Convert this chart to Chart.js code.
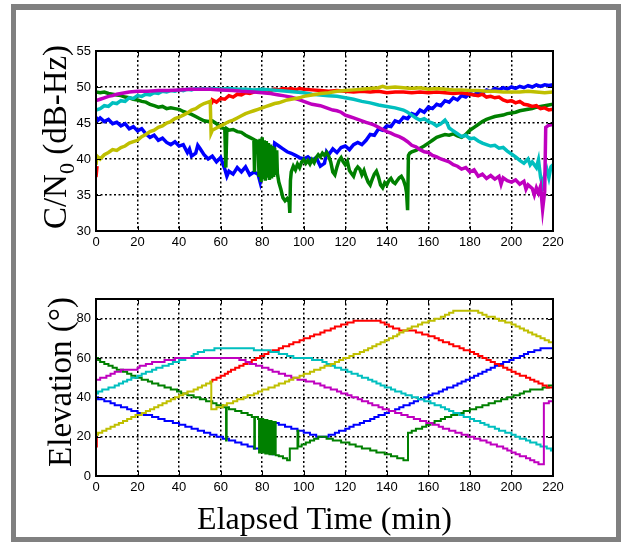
<!DOCTYPE html>
<html>
<head>
<meta charset="utf-8">
<script src="https://cdn.jsdelivr.net/npm/chart.js@4.4.1/dist/chart.umd.min.js"></script>
<style>
  html, body { margin: 0; padding: 0; background: #fff; }
  #page { position: relative; width: 621px; height: 542px; overflow: hidden; }
  #frame { position: absolute; left: 11px; top: 4px; width: 610px; height: 538px;
           box-sizing: border-box; border: 5px solid #808080; border-top-width: 6px; }
  canvas { position: absolute; left: 0; }
  #cnChart { top: 0; }
  #elChart { top: 262px; }
</style>
</head>
<body>
<div id="page">
  <div id="frame"></div>
  <canvas id="cnChart" width="621" height="262"></canvas>
  <canvas id="elChart" width="621" height="280"></canvas>
</div>
<script>
// tick positions
var minuteTicks = [0, 20, 40, 60, 80, 100, 120, 140, 160, 180, 200, 220];
var cnTicks = [30, 35, 40, 45, 50, 55];
var elTicks = [0, 20, 40, 60, 80];

// C/N0 per satellite, [minute, dB-Hz]
var blueCN = [[0,45.8],[1,45.4],[2,45.7],[4,45.2],[6,45.5],[8,44.9],[10,45.1],[12,44.6],[14,44.9],[16,44.2],[18,44.5],[20,43.9],[22,44.2],[24,43.5],[26,43.0],[28,43.3],[30,42.6],[32,42.9],[34,42.3],[36,42.0],[38,42.4],[40,41.8],[42,42.0],[44,40.9],[45,41.4],[46,40.4],[48,40.8],[49,41.9],[50,41.5],[52,40.6],[54,40.0],[56,40.4],[58,39.6],[60,40.2],[61,39.4],[62,38.6],[63,37.6],[64,38.3],[66,37.9],[68,38.8],[70,38.2],[72,38.9],[74,37.8],[76,38.2],[78,37.9],[79,36.8],[80,38.6],[82,38.0],[84,38.4],[85,39.5],[86,42.2],[88,41.8],[90,41.4],[92,41.0],[94,40.8],[96,40.5],[98,40.2],[100,40.0],[102,40.3],[104,39.8],[106,40.2],[108,39.0],[110,39.4],[111,41.0],[112,40.6],[114,41.4],[116,40.9],[118,41.6],[120,41.8],[122,41.3],[124,42.0],[126,42.3],[128,42.0],[130,42.6],[132,43.4],[134,43.3],[136,44.2],[138,44.0],[140,44.6],[142,44.5],[144,45.3],[146,45.1],[148,45.8],[150,45.6],[152,46.3],[154,46.1],[156,46.8],[158,46.5],[160,47.2],[162,47.0],[164,47.6],[166,47.4],[168,48.1],[170,47.9],[172,48.5],[174,48.2],[176,48.8],[178,48.6],[180,49.1],[182,48.9],[184,49.3],[186,49.1],[188,49.6],[190,49.4],[192,49.8],[194,49.6],[196,49.9],[198,49.7],[200,50.0],[202,49.8],[204,50.1],[206,49.9],[208,50.2],[210,50.0],[212,50.3],[214,50.1],[216,50.3],[218,50.2],[220,50.3]];
var greenCN = [[0,49.3],[2,49.2],[4,49.3],[6,49.1],[8,49.0],[10,48.9],[12,48.8],[14,48.6],[16,48.5],[18,48.3],[20,48.2],[22,48.0],[24,47.9],[26,47.6],[28,47.4],[30,47.2],[32,47.3],[34,47.0],[36,47.1],[38,47.0],[40,46.9],[42,46.6],[44,46.4],[46,46.2],[48,45.9],[50,45.6],[52,45.3],[54,45.2],[56,45.3],[58,44.9],[60,44.4],[62,44.2],[62.5,38.8],[63,44.2],[64,44.0],[66,44.1],[68,43.8],[70,43.7],[72,43.3],[74,43.0],[76,42.7],[76.3,38.2],[76.6,42.6],[78,42.4],[78.5,37.5],[79,42.8],[79.5,36.8],[80,43.0],[80.5,37.2],[81,42.6],[81.5,37.0],[82,42.5],[82.5,37.4],[83,42.2],[83.5,37.1],[84,42.0],[84.5,37.3],[85,41.8],[85.5,37.5],[86,41.6],[86.5,37.8],[87,41.2],[87.3,38.0],[88,36.8],[89,35.8],[90,34.6],[91,34.2],[92,34.5],[93,34.0],[93.3,32.5],[93.6,37.0],[94,38.2],[95,39.0],[96,38.5],[97,39.3],[98,38.8],[99,39.6],[100,39.9],[101,39.4],[102,39.8],[103,39.3],[104,39.9],[105,39.5],[106,40.2],[107,40.6],[108,40.3],[109,40.8],[110,40.5],[111,40.9],[112,40.4],[113,39.6],[114,38.2],[115,37.8],[116,38.9],[117,39.8],[118,40.2],[119,39.6],[120,39.2],[121,39.7],[122,38.4],[123,38.0],[124,37.6],[125,38.5],[126,38.9],[127,38.6],[128,37.8],[129,38.4],[130,37.5],[131,36.8],[132,36.4],[133,37.2],[134,37.9],[135,38.3],[136,37.5],[137,36.4],[138,36.0],[139,36.7],[140,36.4],[141,37.0],[142,37.3],[143,36.8],[144,36.6],[145,37.0],[146,37.4],[147,37.6],[148,37.1],[149,36.2],[149.5,35.3],[150,32.9],[150.4,40.5],[151,40.8],[152,41.0],[154,41.2],[156,41.5],[158,41.8],[160,42.2],[162,42.6],[164,43.0],[166,43.2],[168,43.4],[170,43.3],[172,43.5],[174,43.2],[176,43.0],[178,43.4],[180,44.0],[182,44.4],[184,44.8],[186,45.2],[188,45.5],[190,45.7],[192,45.9],[194,46.0],[196,46.1],[198,46.3],[200,46.4],[202,46.5],[204,46.7],[206,46.8],[208,46.9],[210,47.0],[212,47.2],[214,47.3],[216,47.4],[218,47.5],[220,47.6]];
var redCN = [[0,37.5],[0.5,39.0],[1,null],[55.5,47.6],[56,48.2],[58,47.9],[60,48.4],[62,48.3],[64,48.8],[66,48.6],[68,49.0],[70,48.9],[72,49.2],[74,49.1],[76,49.3],[78,49.5],[80,49.4],[82,49.6],[84,49.5],[86,49.7],[88,49.6],[90,49.8],[92,49.7],[94,49.8],[96,49.6],[98,49.8],[100,49.7],[104,49.6],[108,49.5],[112,49.4],[116,49.5],[120,49.4],[124,49.3],[128,49.4],[132,49.3],[136,49.4],[140,49.2],[144,49.3],[148,49.3],[152,49.2],[156,49.3],[160,49.2],[164,49.3],[168,49.2],[172,49.1],[176,49.2],[180,49.0],[184,48.8],[186,49.0],[188,48.6],[190,48.7],[192,48.5],[194,48.6],[196,48.2],[198,48.0],[200,48.1],[202,47.8],[204,48.0],[206,47.6],[208,47.5],[210,47.3],[212,47.4],[214,47.0],[216,47.1],[218,46.8],[220,46.9]];
var cyanCN = [[0,46.8],[2,47.0],[4,47.4],[6,47.3],[8,47.8],[10,47.7],[12,48.1],[14,48.0],[16,48.5],[18,48.4],[20,48.8],[22,48.7],[24,49.0],[26,48.9],[28,49.2],[30,49.1],[32,49.4],[34,49.3],[36,49.5],[38,49.4],[40,49.6],[42,49.5],[44,49.7],[46,49.6],[48,49.8],[50,49.7],[52,49.8],[54,49.7],[56,49.8],[60,49.7],[64,49.8],[68,49.7],[72,49.7],[76,49.6],[80,49.7],[84,49.6],[88,49.5],[92,49.4],[96,49.3],[100,49.2],[104,49.0],[108,48.9],[112,48.8],[116,48.7],[120,48.5],[124,48.3],[128,48.0],[132,47.8],[136,47.5],[140,47.3],[144,47.1],[148,46.8],[150,46.5],[152,46.1],[154,45.7],[156,45.4],[158,45.6],[160,45.2],[162,45.0],[164,44.6],[166,44.9],[168,45.4],[169,45.0],[170,44.3],[172,43.9],[174,43.5],[176,43.1],[178,43.3],[180,42.8],[182,42.9],[184,42.5],[186,42.2],[188,42.0],[190,41.8],[192,41.9],[194,41.5],[196,41.6],[198,41.1],[200,40.7],[202,40.3],[204,39.8],[206,39.4],[208,40.0],[209,39.2],[210,39.6],[212,38.8],[213,39.9],[214,37.5],[215,36.3],[216,37.8],[217,38.6],[218,37.4],[219,38.9],[220,39.2]];
var magentaCN = [[0,48.1],[2,48.3],[4,48.5],[6,48.7],[8,48.8],[10,49.0],[12,49.1],[14,49.2],[16,49.3],[20,49.4],[25,49.4],[30,49.5],[35,49.5],[40,49.6],[45,49.7],[50,49.7],[55,49.7],[60,49.6],[66,49.5],[70,49.4],[76,49.3],[80,49.2],[84,49.1],[88,48.9],[90,48.8],[92,48.7],[94,48.6],[96,48.4],[98,48.2],[100,48.0],[102,47.8],[104,47.6],[106,47.5],[108,47.4],[110,47.2],[112,47.0],[114,46.8],[116,46.7],[118,46.5],[120,46.1],[122,45.9],[124,45.7],[126,45.5],[128,45.3],[130,45.1],[132,44.9],[134,44.7],[136,44.4],[138,44.1],[140,43.8],[142,43.6],[144,43.3],[146,43.1],[148,42.8],[150,42.4],[152,41.9],[154,41.7],[156,41.3],[158,41.0],[160,40.9],[162,40.5],[164,40.3],[166,40.0],[168,39.8],[170,39.6],[172,39.2],[174,39.0],[176,38.6],[178,38.8],[180,38.2],[182,38.5],[184,37.6],[186,37.9],[188,37.3],[190,37.7],[192,37.2],[194,37.6],[195,36.5],[196,37.4],[198,37.0],[200,36.8],[202,37.1],[204,36.5],[206,36.9],[207,35.8],[208,36.4],[210,35.9],[211,35.0],[212,36.0],[213,35.3],[214,36.2],[215,33.0],[216,35.5],[216.5,44.4],[218,44.7],[220,44.8]];
var yellowCN = [[0,39.2],[0.5,40.4],[2,40.0],[4,40.6],[6,40.9],[8,41.3],[10,41.2],[12,41.6],[14,41.8],[16,42.2],[18,42.4],[20,42.6],[22,43.1],[24,43.4],[26,43.8],[28,44.0],[30,44.4],[32,44.6],[34,45.0],[36,45.2],[38,45.6],[40,45.8],[42,46.1],[44,46.4],[46,46.8],[48,47.0],[50,47.4],[52,47.7],[54,47.9],[55,48.0],[55.4,43.6],[56,44.0],[58,44.3],[60,44.6],[62,44.9],[64,45.2],[66,45.4],[68,45.7],[70,46.0],[72,46.3],[74,46.5],[76,46.7],[78,46.9],[80,47.1],[82,47.3],[84,47.5],[86,47.7],[88,47.8],[90,48.0],[92,48.2],[94,48.3],[96,48.4],[98,48.5],[100,48.7],[104,48.9],[108,49.1],[112,49.2],[116,49.4],[120,49.5],[124,49.6],[128,49.7],[132,49.8],[136,49.9],[138,50.1],[140,49.9],[144,50.0],[148,49.9],[152,49.8],[156,49.9],[160,49.7],[164,49.8],[168,49.7],[172,49.6],[176,49.6],[180,49.5],[184,49.5],[188,49.4],[192,49.4],[196,49.3],[200,49.3],[204,49.3],[208,49.4],[212,49.3],[216,49.2],[220,49.3]];

// elevation per satellite, [minute, degrees], held until the next entry
var blueEl = [[0,40],[1,39],[4,38],[7,37],[9,36],[12,35],[15,34],[17,33],[20,32],[23,31],[27,30],[30,29],[33,28],[37,27],[40,26],[43,25],[46,24],[49,23],[52,22],[55,21],[58,20],[61,19],[64,18],[67,17],[70,16],[73,15],[76,14],[79,13],[82,12],[85,11],[85.5,27],[88,26],[91,25],[94,24],[97,23],[100,22],[103,21],[106,20],[110,20],[112,21],[115,22],[117,23],[120,24],[122,25],[124,26],[127,27],[129,28],[132,29],[134,30],[136,31],[139,32],[141,33],[144,34],[146,35],[148,36],[151,37],[153,38],[155,39],[158,40],[160,41],[162,42],[165,43],[167,44],[169,45],[172,46],[174,47],[176,48],[178,49],[180,50],[182,51],[184,52],[186,53],[188,54],[190,55],[192,56],[194,57],[196,58],[199,59],[201,60],[204,61],[206,62],[208,63],[211,64],[214,65],[220,65]];
var greenEl = [[0,60],[1,59],[2,58],[4,57],[6,56],[8,55],[10,54],[13,53],[15,52],[17,51],[19,50],[22,49],[25,48],[27,47],[30,46],[33,45],[36,44],[39,43],[41,42],[44,41],[47,40],[50,39],[53,38],[56,37],[58,36],[61,35],[62.6,18],[62.9,35],[64,34],[67,33],[70,32],[73,31],[75,30],[76.2,14],[76.5,30],[78,29],[78.5,12],[79,29],[79.5,12],[80,29],[80.5,12],[81,28.5],[81.5,11.5],[82,28.5],[82.5,11.5],[83,28],[83.5,11],[84,28],[84.5,11],[85,27.5],[85.5,11],[86,27.5],[86.5,10.5],[87,10.5],[88,10],[90,9],[92,8],[93.3,14],[97,23],[97.4,15],[99,16],[101,17],[103,18],[105,19],[107,20],[111,19],[114,18],[118,17],[122,16],[125,15],[128,14],[132,13],[135,12],[139,11],[142,10],[145,9],[148,8],[150.2,22],[152,23],[154,24],[157,25],[159,26],[161,27],[163,28],[166,29],[168,30],[171,31],[174,32],[177,33],[180,34],[183,35],[186,36],[189,37],[192,38],[195,39],[198,40],[201,41],[204,42],[206,43],[209,44],[215,45],[218,46],[220,47]];
var redEl = [[0,15],[0.4,20],[0.8,null],[55.5,48],[56,49],[58,50],[60,51],[62,52],[63.5,53],[65,54],[67,55],[69,56],[71,57],[73,58],[75,59],[77,60],[79,61],[81,62],[83,63],[85,64],[88,65],[90,66],[93,67],[95,68],[98,69],[100,70],[103,71],[105,72],[108,73],[110,74],[113,75],[115,76],[118,77],[121,78],[124,79],[135,79],[137,78],[139,77],[141,76],[143,75],[146,74],[154,73],[157,72],[160,71],[163,70],[165,69],[167,68],[170,67],[172,66],[175,65],[177,64],[180,63],[182,62],[184,61],[186,60],[188,59],[190,58],[192,57],[194,56],[196,55],[198,54],[200,53],[202,52],[204,51],[207,50],[209,49],[211,48],[213,47],[215,46],[217,45],[220,45]];
var cyanEl = [[0,42],[1,43],[3,44],[6,45],[9,46],[11,47],[13,48],[15,49],[17,50],[20,51],[22,52],[24,53],[27,54],[29,55],[32,56],[35,57],[37,58],[40,59],[43,60],[46,61],[47,62],[49,63],[52,64],[57,65],[76,64],[84,63],[88,62],[92,61],[95,60],[104,59],[109,58],[111,57],[113,56],[115,55],[118,54],[121,53],[123,52],[126,51],[128,50],[131,49],[133,48],[135,47],[137,46],[139,45],[142,44],[144,43],[147,42],[149,41],[152,40],[155,39],[158,38],[161,37],[163,36],[166,35],[168,34],[170,33],[172,32],[175,31],[177,30],[180,29],[182,28],[185,27],[187,26],[189,25],[192,24],[194,23],[197,22],[200,21],[202,20],[204,19],[207,18],[209,17],[212,16],[214,15],[217,14],[219,13],[220,13]];
var magentaEl = [[0,49],[2,50],[5,51],[7,52],[9,53],[12,54],[20,55],[21,56],[24,57],[27,58],[33,59],[38,60],[67,60],[69,59],[72,58],[74,57],[77,56],[80,55],[83,54],[85,53],[88,52],[91,51],[94,50],[97,49],[101,48],[105,47],[108,46],[110,45],[113,44],[116,43],[118,42],[121,41],[123,40],[126,39],[128,38],[131,37],[133,36],[136,35],[138,34],[141,33],[144,32],[147,31],[150,30],[153,29],[156,28],[159,27],[162,26],[165,25],[167,24],[170,23],[173,22],[176,21],[179,20],[182,19],[185,18],[188,17],[190,16],[193,15],[196,14],[198,13],[200,12],[202,11],[204,10],[207,9],[209,8],[211,7],[213,6],[215.6,37],[218,38],[220,38]];
var yellowEl = [[0,21],[1,22],[3,23],[5,24],[7,25],[9,26],[11,27],[13,28],[15,29],[17,30],[19,31],[22,32],[24,33],[26,34],[28,35],[30,36],[32,37],[34,38],[36,39],[38,40],[40,41],[42,42],[44,43],[47,44],[49,45],[51,46],[53,47],[55,48],[55.5,34],[58,35],[61,36],[63,37],[66,38],[68,39],[71,40],[73,41],[76,42],[78,43],[80,44],[83,45],[86,46],[88,47],[91,48],[93,49],[95,50],[98,51],[100,52],[103,53],[105,54],[108,55],[110,56],[113,57],[115,58],[117,59],[119,60],[122,61],[124,62],[127,63],[129,64],[131,65],[133,66],[135,67],[137,68],[139,69],[141,70],[143,71],[145,72],[146,73],[148,74],[150,75],[152,76],[155,77],[157,78],[160,79],[163,80],[166,81],[168,82],[170,83],[172,84],[182,84],[184,83],[186,82],[188,81],[192,80],[194,79],[197,78],[200,77],[202,76],[204,75],[206,74],[208,73],[210,72],[212,71],[214,70],[216,69],[218,68],[220,67]];

var colors = {
  blue: '#0000ff', green: '#008000', red: '#ff0000',
  cyan: '#00bfbf', magenta: '#bf00bf', yellow: '#bfbf00'
};

// first dataset is painted last, so yellow goes first to end up on top
function makeSets(series, width, stepped) {
  return series.map(function(s) {
    return {
      data: s[1],
      borderColor: colors[s[0]],
      borderWidth: width,
      pointRadius: 0,
      fill: false,
      tension: 0,
      stepped: stepped,
      spanGaps: false
    };
  });
}

// solid box round the plot plus short inward tick marks
var boxPlugin = {
  id: 'plotBox',
  afterDatasetsDraw: function(chart) {
    var ctx = chart.ctx, a = chart.chartArea;
    var sx = chart.scales.x, sy = chart.scales.y;
    ctx.save();
    ctx.strokeStyle = '#000';
    ctx.setLineDash([]);
    ctx.lineWidth = 1;
    ctx.beginPath();
    sx.ticks.forEach(function(t) {
      var px = Math.round(sx.getPixelForValue(t.value)) + 0.5;
      ctx.moveTo(px, a.bottom); ctx.lineTo(px, a.bottom - 5);
      ctx.moveTo(px, a.top); ctx.lineTo(px, a.top + 5);
    });
    sy.ticks.forEach(function(t) {
      var py = Math.round(sy.getPixelForValue(t.value)) + 0.5;
      ctx.moveTo(a.left, py); ctx.lineTo(a.left + 5, py);
      ctx.moveTo(a.right, py); ctx.lineTo(a.right - 5, py);
    });
    ctx.stroke();
    ctx.lineWidth = 2;
    ctx.strokeRect(a.left, a.top, a.right - a.left, a.bottom - a.top);
    ctx.restore();
  }
};

// axis titles; the y title can carry a subscript part
var titlePlugin = {
  id: 'axisTitles',
  afterDraw: function(chart, args, opts) {
    var ctx = chart.ctx;
    ctx.save();
    ctx.fillStyle = '#000';
    ctx.textBaseline = 'alphabetic';
    if (opts.y) {
      var y = opts.y;
      var widths = y.parts.map(function(p) {
        ctx.font = (p.sub ? y.subSize : y.size) + 'px "Liberation Serif", "Times New Roman", serif';
        return ctx.measureText(p.text).width;
      });
      var total = widths.reduce(function(s, w) { return s + w; }, 0);
      ctx.translate(y.x, y.cy);
      ctx.rotate(-Math.PI / 2);
      var pos = -total / 2;
      y.parts.forEach(function(p, i) {
        ctx.font = (p.sub ? y.subSize : y.size) + 'px "Liberation Serif", "Times New Roman", serif';
        ctx.textAlign = 'left';
        ctx.fillText(p.text, pos, p.sub ? y.subDrop : 0);
        pos += widths[i];
      });
      ctx.setTransform(1, 0, 0, 1, 0, 0);
    }
    if (opts.x) {
      var a = chart.chartArea;
      ctx.font = opts.x.size + 'px "Liberation Serif", "Times New Roman", serif';
      ctx.textAlign = 'center';
      ctx.fillText(opts.x.text, (a.left + a.right) / 2, opts.x.y);
    }
    ctx.restore();
  }
};

function makeScales(yMin, yMax, yTickList, xHeight) {
  var tickFont = { family: '"Liberation Sans", Arial, sans-serif', size: 13 };
  return {
    x: {
      type: 'linear', min: 0, max: 220,
      afterBuildTicks: function(s) { s.ticks = minuteTicks.map(function(v) { return { value: v }; }); },
      afterFit: function(s) { s.height = xHeight; },
      grid: { color: '#000', lineWidth: 1.5, drawTicks: false },
      border: { display: false, dash: [2, 2.5] },
      ticks: { color: '#000', font: tickFont, padding: 4, maxRotation: 0, autoSkip: false }
    },
    y: {
      type: 'linear', min: yMin, max: yMax,
      afterBuildTicks: function(s) { s.ticks = yTickList.map(function(v) { return { value: v }; }); },
      afterFit: function(s) { s.width = 96; },
      grid: { color: '#000', lineWidth: 1.5, drawTicks: false },
      border: { display: false, dash: [2, 2.5] },
      ticks: { color: '#000', font: tickFont, padding: 5, autoSkip: false }
    }
  };
}

new Chart(document.getElementById('cnChart'), {
  type: 'line',
  data: {
    datasets: makeSets([
      ['yellow', yellowCN], ['magenta', magentaCN], ['cyan', cyanCN],
      ['red', redCN], ['green', greenCN], ['blue', blueCN]
    ], 3.5, false)
  },
  options: {
    responsive: false,
    animation: false,
    layout: { padding: { left: 0, top: 51, right: 68, bottom: 0 } },
    scales: makeScales(30, 55, cnTicks, 31),
    plugins: {
      legend: { display: false },
      tooltip: { enabled: false },
      axisTitles: {
        y: {
          x: 66, cy: 137, size: 33, subSize: 22, subDrop: 8,
          parts: [{ text: 'C/N' }, { text: '0', sub: true }, { text: ' (dB-Hz)' }]
        }
      }
    }
  },
  plugins: [boxPlugin, titlePlugin]
});

new Chart(document.getElementById('elChart'), {
  type: 'line',
  data: {
    datasets: makeSets([
      ['yellow', yellowEl], ['magenta', magentaEl], ['cyan', cyanEl],
      ['red', redEl], ['green', greenEl], ['blue', blueEl]
    ], 2, true)
  },
  options: {
    responsive: false,
    animation: false,
    layout: { padding: { left: 0, top: 37, right: 68, bottom: 0 } },
    scales: makeScales(0, 90, elTicks, 66),
    plugins: {
      legend: { display: false },
      tooltip: { enabled: false },
      axisTitles: {
        y: {
          x: 71, cy: 120, size: 33, subSize: 22, subDrop: 8,
          parts: [{ text: 'Elevation (\u00B0)' }]
        },
        x: { text: 'Elapsed Time (min)', size: 32, y: 267 }
      }
    }
  },
  plugins: [boxPlugin, titlePlugin]
});
</script>
</body>
</html>
